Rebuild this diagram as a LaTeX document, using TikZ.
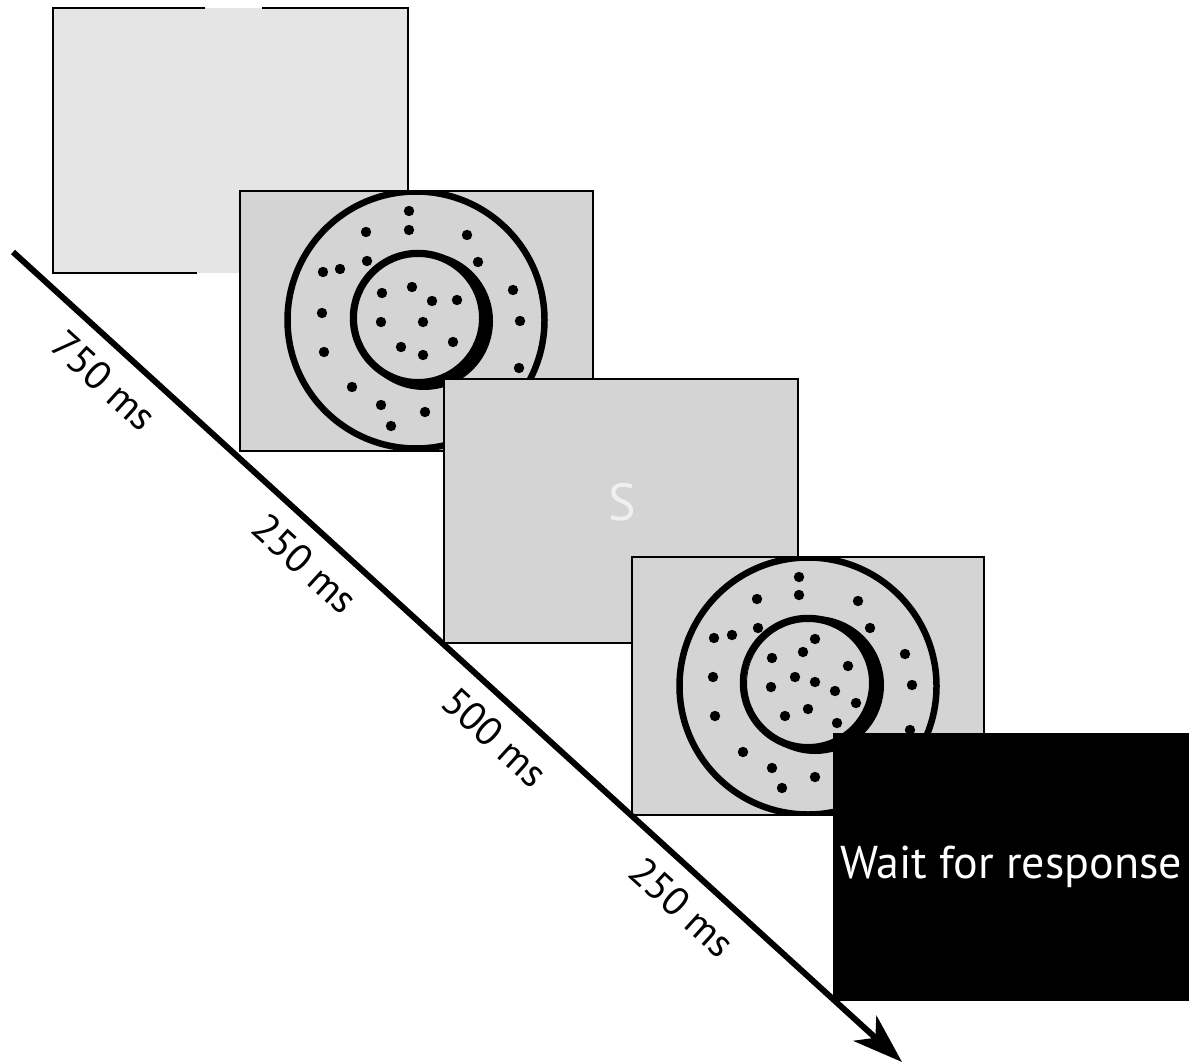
\documentclass[tikz,border=0pt]{standalone}
\usepackage{fontspec}
\setmainfont{PT Sans}
\usetikzlibrary{arrows.meta,calc}
\begin{document}
\begin{tikzpicture}[x=1pt,y=-1pt,
  panelfill/.style={fill=black!17, minimum width=354pt, minimum height=262pt, anchor=north west, inner sep=0pt, outer sep=0pt},
  panel/.style={panelfill, draw=black, line width=1.8pt},
  ring/.style={draw=black, line width=6.5pt},
  spot/.style={fill=black},
  lbl/.style={font=\fontsize{40}{42}\selectfont, sloped, below=13pt},
  timeline/.style={line width=6pt, -{Stealth[length=50pt,width=34pt,inset=14pt]}}
]
\useasboundingbox (0,0) rectangle (1190,1064);

% panel 1 (partial border)
\node[panelfill, fill=black!10, minimum width=355pt, minimum height=265pt] (p1) at (53,8) {};
\draw[line width=1.8pt] (205,8) -- (53,8) -- (53,273) -- (197,273);
\draw[line width=1.8pt] (262,8) -- (408,8) -- (408,191);

% panel 2
\node[panel, minimum width=353pt, minimum height=260pt] (p2) at (240,191) {};
\begin{scope}
\clip (240,191) rectangle (593,451);
\draw[ring] (416,320) circle[radius=128.5];
\end{scope}
\fill[even odd rule] (424,321) circle[radius=69] (418,318) circle[radius=61];
\draw[ring] (418,318) circle[radius=65];
\foreach \p in {(409,211),(409,230),(366,232),(467,235),(367,261),(478,262),(323,272),(340,269),(513,290),(322,313),(520,321),(324,352),(519,368),(352,387),(381,405),(425,412),(391,426),
  (382,293),(412,287),(432,301),(457,300),(381,322),(423,322),(453,342),(401,347),(423,355)}
  \fill[spot] \p circle[radius=5.2];

% panel 3
\node[panel, minimum width=354pt, minimum height=264pt] (p3) at (444,379) {};
\node[text=black!6, font=\fontsize{52}{54}\selectfont] (s) at (622,502) {S};

% panel 4
\node[panel, minimum width=352pt, minimum height=258pt] (p4) at (632,557) {};
\begin{scope}
\clip (632,557) rectangle (984,815);
\draw[ring] (808,686) circle[radius=128.5];
\end{scope}
\fill[even odd rule] (815,685) circle[radius=69] (808,683) circle[radius=61];
\draw[ring] (808,683) circle[radius=65];
\foreach \p in {(799,577),(799,595),(757,599),(858,601),(758,628),(870,628),(714,638),(732,635),(905,654),(713,677),(912,685),(715,716),(910,730),(743,752),(772,768),(815,777),(782,788),
  (815,639),(803,652),(772,658),(848,666),(795,677),(815,682),(771,687),(835,691),(856,703),(808,709),(785,716),(837,723)}
  \fill[spot] \p circle[radius=5.2];

% response box
\node[fill=black, minimum width=356pt, minimum height=268pt, anchor=north west, inner sep=0pt,
      text=white, font=\fontsize{46}{48}\selectfont] (resp) at (833,733) {Wait for response};

% timeline
\coordinate (t0) at (13,252);
\coordinate (t1) at (902,1062);
\draw[timeline] (t0) -- (t1)
  node[lbl, pos=0.128] (l1) {750 ms}
  node[lbl, pos=0.354] (l2) {250 ms}
  node[lbl, pos=0.568] (l3) {500 ms}
  node[lbl, pos=0.778] (l4) {250 ms};
\end{tikzpicture}
\end{document}
